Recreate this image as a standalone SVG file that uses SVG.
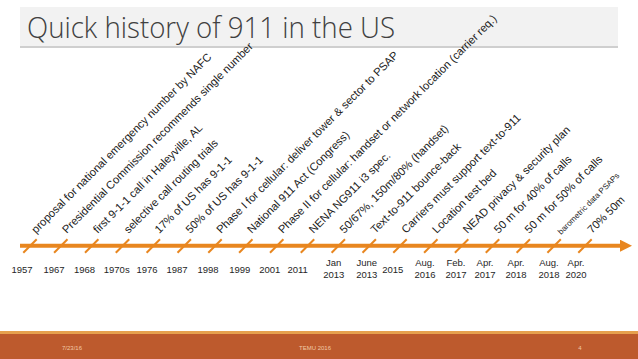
<svg xmlns="http://www.w3.org/2000/svg" width="638" height="359" viewBox="0 0 638 359">
<style>
.lbl{font-family:"Liberation Sans",Arial,sans-serif;font-size:11.2px;fill:#1a1a1a}
.sm{font-size:8px}
.yr{font-family:"Liberation Sans",Arial,sans-serif;font-size:9.5px;fill:#262626;text-anchor:middle}
.tick{stroke:#E8861F;stroke-width:2;stroke-linecap:butt}
.ft{font-family:"Liberation Sans",Arial,sans-serif;font-size:6px;fill:#F2C9A6;text-anchor:middle}
</style>
<defs>
<marker id="ah" markerWidth="12" markerHeight="12" refX="0" refY="6" orient="auto" markerUnits="userSpaceOnUse">
<path d="M0,0 L12,6 L0,12 Z" fill="#E8861F"/>
</marker>
</defs>
<rect width="638" height="359" fill="#ffffff"/>
<g id="title">
<rect x="20" y="7" width="598" height="39" fill="#F2F2F2"/>
<line x1="20" y1="47" x2="618" y2="47" stroke="#BFBFBF" stroke-width="1.5"/>
<text x="27" y="38" font-family="'Open Sans','Liberation Sans',Arial,sans-serif" font-weight="300" font-size="29" fill="#404040" textLength="368" lengthAdjust="spacingAndGlyphs">Quick history of 911 in the US</text>
</g>
<g id="connectors">
<line x1="20" y1="245.7" x2="620" y2="245.7" stroke="#E8861F" stroke-width="4" marker-end="url(#ah)"/>
</g>
<g id="e0"><line class="tick" x1="23.3" y1="252.7" x2="36.7" y2="239.3"/><text class="lbl" transform="translate(36,234) rotate(-45)">proposal for national emergency number by NAFC</text><text class="yr" x="22" y="272.7">1957</text></g>
<g id="e1"><line class="tick" x1="54.1" y1="252.7" x2="67.5" y2="239.3"/><text class="lbl" transform="translate(66.8,234) rotate(-45)">Presidential Commission recommends single number</text><text class="yr" x="54" y="272.7">1967</text></g>
<g id="e2"><line class="tick" x1="85" y1="252.7" x2="98.4" y2="239.3"/><text class="lbl" transform="translate(97.7,234) rotate(-45)">first 9-1-1 call in Haleyville, AL</text><text class="yr" x="84.5" y="272.7">1968</text></g>
<g id="e3"><line class="tick" x1="115.8" y1="252.7" x2="129.2" y2="239.3"/><text class="lbl" transform="translate(128.5,234) rotate(-45)">selective call routing trials</text><text class="yr" x="116.7" y="272.7">1970s</text></g>
<g id="e4"><line class="tick" x1="146.6" y1="252.7" x2="160" y2="239.3"/><text class="lbl" transform="translate(159.3,234) rotate(-45)">17% of US has 9-1-1</text><text class="yr" x="147" y="272.7">1976</text></g>
<g id="e5"><line class="tick" x1="177.5" y1="252.7" x2="190.9" y2="239.3"/><text class="lbl" transform="translate(190.2,234) rotate(-45)">50% of US has 9-1-1</text><text class="yr" x="177" y="272.7">1987</text></g>
<g id="e6"><line class="tick" x1="208.3" y1="252.7" x2="221.7" y2="239.3"/><text class="lbl" transform="translate(221,234) rotate(-45)">Phase I for cellular: deliver tower &amp; sector to PSAP</text><text class="yr" x="208" y="272.7">1998</text></g>
<g id="e7"><line class="tick" x1="239.1" y1="252.7" x2="252.5" y2="239.3"/><text class="lbl" transform="translate(251.8,234) rotate(-45)">National 911 Act (Congress)</text><text class="yr" x="239.7" y="272.7">1999</text></g>
<g id="e8"><line class="tick" x1="270" y1="252.7" x2="283.4" y2="239.3"/><text class="lbl" transform="translate(282.7,234) rotate(-45)">Phase II for cellular: handset or network location (carrier req.)</text><text class="yr" x="269.7" y="272.7">2001</text></g>
<g id="e9"><line class="tick" x1="300.8" y1="252.7" x2="314.2" y2="239.3"/><text class="lbl" transform="translate(313.5,234) rotate(-45)">NENA NG911 i3 spec.</text><text class="yr" x="297.7" y="272.7">2011</text></g>
<g id="e10"><line class="tick" x1="331.6" y1="252.7" x2="345" y2="239.3"/><text class="lbl" transform="translate(344.3,234) rotate(-45)">50/67%, 150m/80% (handset)</text><text class="yr" x="333.7" y="266">Jan</text><text class="yr" x="333.7" y="278.4">2013</text></g>
<g id="e11"><line class="tick" x1="362.5" y1="252.7" x2="375.9" y2="239.3"/><text class="lbl" transform="translate(375.2,234) rotate(-45)">Text-to-911 bounce-back</text><text class="yr" x="366.7" y="266">June</text><text class="yr" x="366.7" y="278.4">2013</text></g>
<g id="e12"><line class="tick" x1="393.3" y1="252.7" x2="406.7" y2="239.3"/><text class="lbl" transform="translate(406,234) rotate(-45)">Carriers must support text-to-911</text><text class="yr" x="392.8" y="272.7">2015</text></g>
<g id="e13"><line class="tick" x1="424.1" y1="252.7" x2="437.5" y2="239.3"/><text class="lbl" transform="translate(436.8,234) rotate(-45)">Location test bed</text><text class="yr" x="425" y="266">Aug.</text><text class="yr" x="425" y="278.4">2016</text></g>
<g id="e14"><line class="tick" x1="454.9" y1="252.7" x2="468.3" y2="239.3"/><text class="lbl" transform="translate(467.6,234) rotate(-45)">NEAD privacy &amp; security plan</text><text class="yr" x="456" y="266">Feb.</text><text class="yr" x="456" y="278.4">2017</text></g>
<g id="e15"><line class="tick" x1="485.8" y1="252.7" x2="499.2" y2="239.3"/><text class="lbl" transform="translate(498.5,234) rotate(-45)">50 m for 40% of calls</text><text class="yr" x="485" y="266">Apr.</text><text class="yr" x="485" y="278.4">2017</text></g>
<g id="e16"><line class="tick" x1="516.6" y1="252.7" x2="530" y2="239.3"/><text class="lbl" transform="translate(529.3,234) rotate(-45)">50 m for 50% of calls</text><text class="yr" x="516" y="266">Apr.</text><text class="yr" x="516" y="278.4">2018</text></g>
<g id="e17"><line class="tick" x1="547.4" y1="252.7" x2="560.8" y2="239.3"/><text class="lbl sm" transform="translate(561,235) rotate(-45)">barometric data PSAPs</text><text class="yr" x="549" y="266">Aug.</text><text class="yr" x="549" y="278.4">2018</text></g>
<g id="e18"><line class="tick" x1="578.3" y1="252.7" x2="591.7" y2="239.3"/><text class="lbl" transform="translate(592,234) rotate(-45)">70% 50m</text><text class="yr" x="576" y="266">Apr.</text><text class="yr" x="576" y="278.4">2020</text></g>
<g id="footer">
<rect x="0" y="331" width="638" height="3" fill="#E6A04E"/>
<rect x="0" y="334" width="638" height="25" fill="#BD5A2D"/>
<text class="ft" x="72" y="350">7/23/16</text>
<text class="ft" x="315" y="350">TEMU 2016</text>
<text class="ft" x="580" y="350">4</text>
</g>
</svg>
